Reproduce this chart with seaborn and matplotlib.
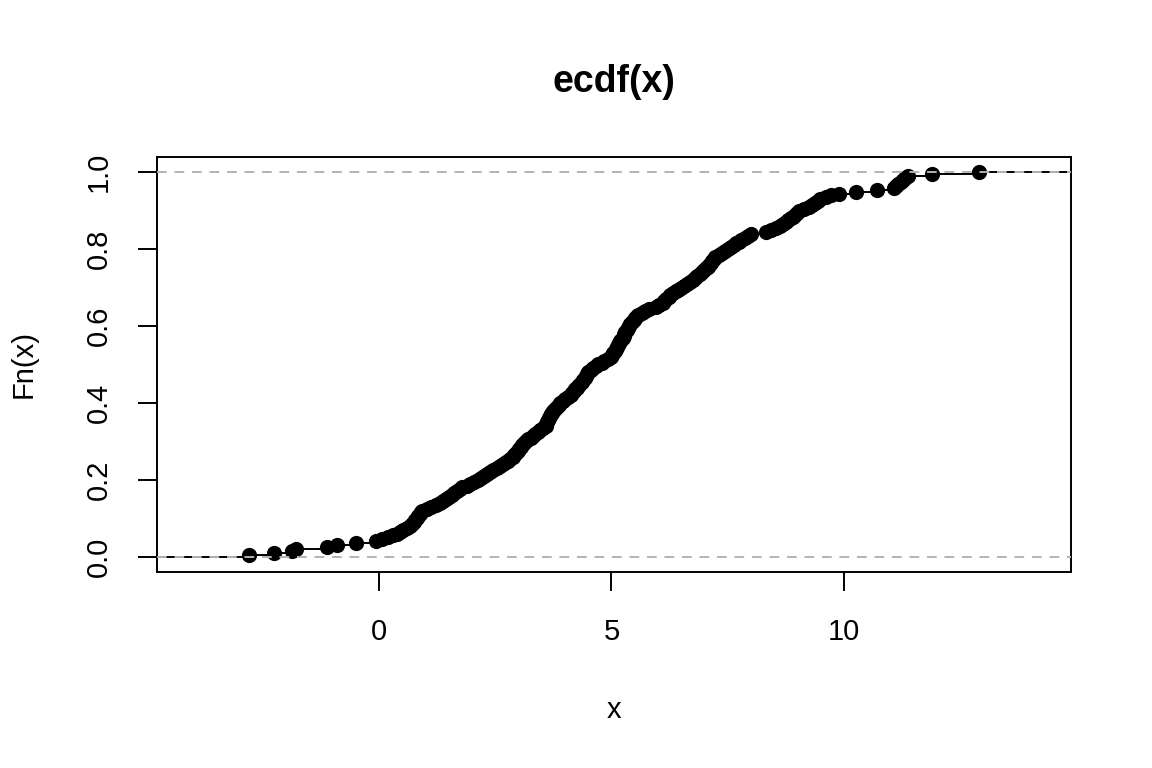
import numpy as np
import pandas as pd
import seaborn as sns
import matplotlib.pyplot as plt

# sample values (sorted, n = 200)
x_values = [
    -2.80, -2.26, -1.88, -1.79, -1.12, -0.92, -0.50, -0.08, 0.05, 0.19,
    0.30, 0.38, 0.45, 0.52, 0.60, 0.67,
    0.70, 0.74, 0.78, 0.81, 0.84, 0.87, 0.90, 0.93,
    1.02, 1.12, 1.22, 1.31,
    1.38, 1.44, 1.51, 1.57,
    1.62, 1.68, 1.73, 1.79,
    1.88, 1.96, 2.05, 2.13,
    2.20, 2.26, 2.33, 2.39,
    2.46, 2.53, 2.60, 2.67,
    2.72, 2.77, 2.82, 2.87,
    2.91, 2.94, 2.98, 3.01, 3.05, 3.08, 3.12, 3.15,
    3.20, 3.26, 3.31, 3.36,
    3.42, 3.47, 3.53, 3.58,
    3.60, 3.62, 3.64, 3.66, 3.68, 3.70, 3.73, 3.75,
    3.79, 3.83, 3.86, 3.90,
    3.95, 4.01, 4.06, 4.12,
    4.15, 4.19, 4.22, 4.26, 4.29, 4.33,
    4.36, 4.39, 4.42, 4.45, 4.47, 4.50,
    4.55, 4.61, 4.66, 4.72,
    4.79, 4.85, 4.92, 4.98,
    5.01, 5.04, 5.07, 5.09, 5.12, 5.15,
    5.17, 5.19, 5.21, 5.24, 5.26, 5.28, 5.30, 5.33, 5.35, 5.37,
    5.41, 5.44, 5.48, 5.51, 5.55, 5.58,
    5.65, 5.73, 5.80,
    5.95, 6.03, 6.10,
    6.14, 6.18, 6.23, 6.27,
    6.33, 6.38, 6.44, 6.49,
    6.56, 6.62, 6.69, 6.75,
    6.80, 6.85, 6.91, 6.96,
    7.00, 7.03, 7.07, 7.10, 7.14, 7.17, 7.21, 7.24,
    7.31, 7.38, 7.45, 7.52,
    7.57, 7.63, 7.68, 7.74,
    7.80, 7.87, 7.93, 8.00,
    8.32,
    8.43, 8.54, 8.64,
    8.70, 8.75, 8.81, 8.86,
    8.90, 8.95, 8.99, 9.03,
    9.14, 9.25,
    9.31, 9.38, 9.44, 9.50,
    9.61, 9.72,
    9.89,
    10.26,
    10.71,
    11.08, 11.13, 11.18, 11.23, 11.28, 11.33, 11.38,
    11.90, 12.91,
]

x_ticks = [0, 5, 10]
y_ticks = [0.0, 0.2, 0.4, 0.6, 0.8, 1.0]
y_tick_labels = ["0.0", "0.2", "0.4", "0.6", "0.8", "1.0"]

sns.set_style("white")
plt.rcParams['font.family'] = ['Liberation Sans', 'DejaVu Sans']
plt.rcParams['text.color'] = 'black'
plt.rcParams['axes.labelcolor'] = 'black'

x = np.sort(np.array(x_values))
n = len(x)
fn = np.arange(1, n + 1) / n
df = pd.DataFrame({"x": x, "Fn": fn})

# limits the way R's plot.stepfun builds them
dr = max(0.08 * (x[-1] - x[0]), np.median(np.diff(x)))
lo, hi = x[0] - dr, x[-1] + dr
ext = 0.04 * (hi - lo)

fig = plt.figure(figsize=(11.52, 7.68), dpi=100)
ax = fig.add_axes([157 / 1152, 1 - 572 / 768, (1071 - 157) / 1152, (572 - 157) / 768])

# horizontal steps only, no verticals
knots = np.concatenate([[lo - dr], x, [hi + dr]])
levels = np.concatenate([[0.0], fn])
ax.hlines(levels, knots[:-1], knots[1:], color='black', lw=1.4, zorder=2)

sns.scatterplot(data=df, x="x", y="Fn", color='black', s=120, linewidth=0, ax=ax, zorder=3)

for h in (0, 1):
    ax.axhline(h, color='#B3B3B3', lw=1.4, ls=(0, (5, 4)), zorder=4)

ax.set_xlim(lo - ext, hi + ext)
ax.set_ylim(-0.04, 1.04)
ax.set_xticks(x_ticks)
ax.set_xticklabels([str(t) for t in x_ticks])
ax.set_yticks(y_ticks)
ax.set_yticklabels(y_tick_labels, rotation=90, va='center')
ax.set_xlabel("")
ax.set_ylabel("")

for sp in ax.spines.values():
    sp.set_visible(True)
    sp.set_color('black')
    sp.set_linewidth(1.4)

ax.tick_params(axis='both', direction='out', length=14, width=1.4, colors='black', labelsize=21)
ax.tick_params(axis='x', pad=19, bottom=True)
ax.tick_params(axis='y', pad=18, left=True)

fig.text(614 / 1152, 1 - 92 / 768, "ecdf(x)", ha='center', va='baseline',
         fontsize=27, fontweight='bold', color='black')
fig.text(614 / 1152, 1 - 718 / 768, "x", ha='center', va='baseline', fontsize=21, color='black')
fig.text(32 / 1152, 1 - 364.5 / 768, "Fn(x)", rotation=90, rotation_mode='anchor',
         ha='center', va='baseline', fontsize=21, color='black')

fig.savefig("out.png", dpi=100)
